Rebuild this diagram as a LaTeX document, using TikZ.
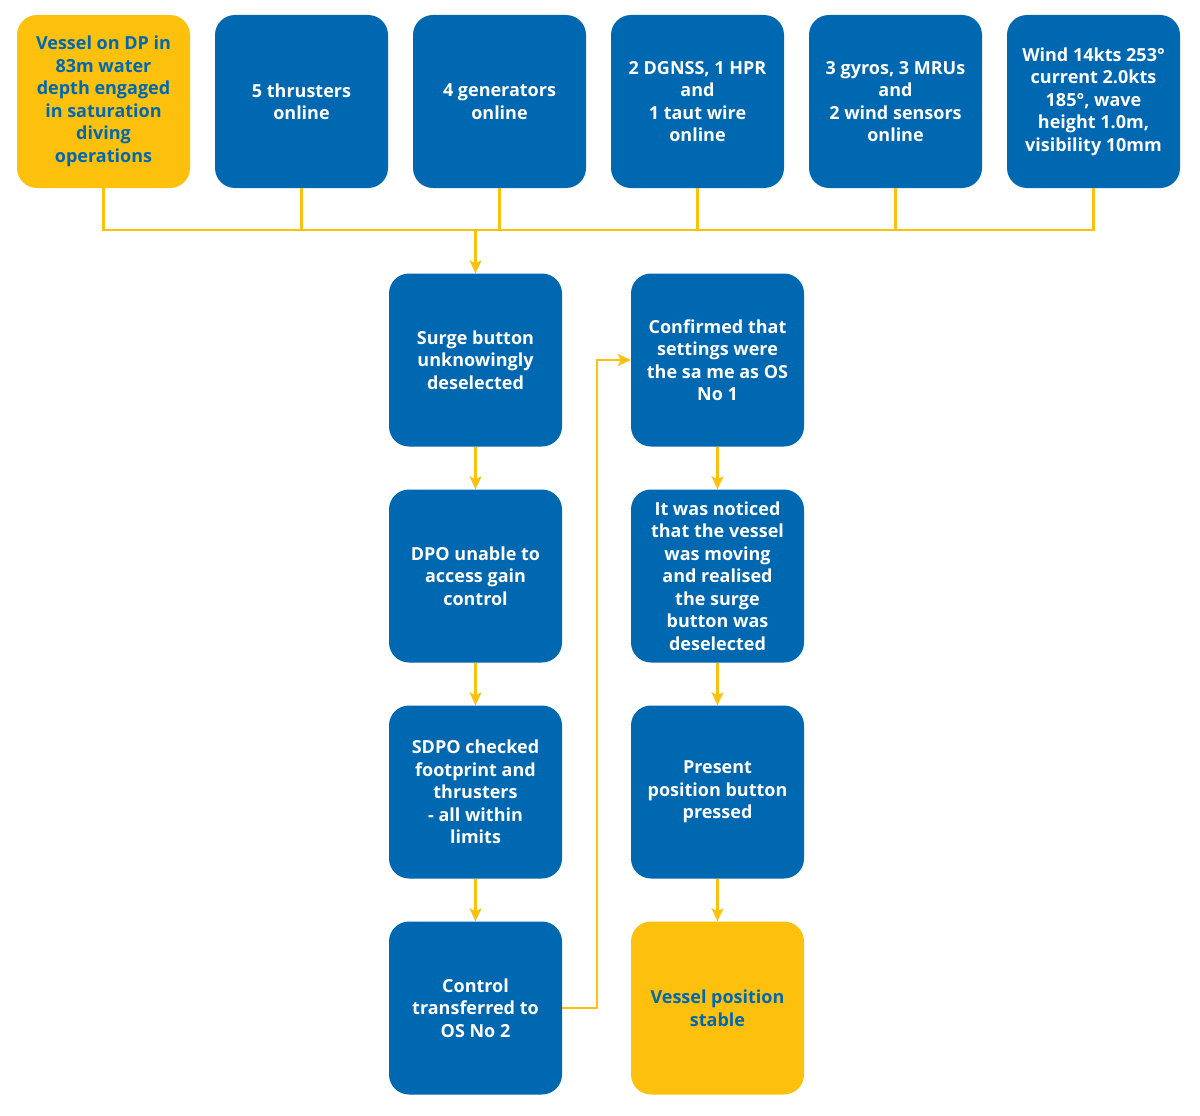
\documentclass[tikz,border=0pt]{standalone}
\usepackage{fontspec}
\setmainfont{Open Sans}
\usetikzlibrary{arrows.meta}
\definecolor{dblue}{HTML}{0067B1}
\definecolor{dyel}{HTML}{FDC00C}
\tikzset{
  box/.style={draw=none, fill=dblue, rounded corners=20pt, minimum width=173pt, minimum height=173pt,
    text=white, align=center, font=\fontsize{18}{22.5}\selectfont\bfseries, inner sep=0pt},
  ybox/.style={box, fill=dyel, text=dblue},
  conn/.style={draw=dyel, line width=2.1pt},
  arr/.style={conn, -{Stealth[length=13pt,width=12pt,inset=3pt]}}
}
\begin{document}
\begin{tikzpicture}[x=1pt,y=-1pt]
\useasboundingbox (0,0) rectangle (1200,1116);
\node[ybox] (n1) at (103.5,101.5) {Vessel on DP in\\83m water\\depth engaged\\in saturation\\diving\\operations};
\node[box] (n2) at (301.5,101.5) {5 thrusters\\online};
\node[box] (n3) at (499.5,101.5) {4 generators\\online};
\node[box] (n4) at (697.5,101.5) {2 DGNSS, 1 HPR\\and\\1 taut wire\\online};
\node[box] (n5) at (895.5,101.5) {3 gyros, 3 MRUs\\and\\2 wind sensors\\online};
\node[box] (n6) at (1093.5,101.5) {Wind 14kts 253°\\current 2.0kts\\185°, wave\\height 1.0m,\\visibility 10mm};
\node[box] (s1) at (475.5,360) {Surge button\\unknowingly\\deselected};
\node[box] (s2) at (475.5,576) {DPO unable to\\access gain\\control};
\node[box] (s3) at (475.5,792) {SDPO checked\\footprint and\\thrusters\\- all within\\limits};
\node[box] (s4) at (475.5,1008) {Control\\transferred to\\OS No 2};
\node[box] (r1) at (717.5,360) {Confirmed that\\settings were\\the sa me as OS\\No 1};
\node[box] (r2) at (717.5,576) {It was noticed\\that the vessel\\was moving\\and realised\\the surge\\button was\\deselected};
\node[box] (r3) at (717.5,792) {Present\\position button\\pressed};
\node[ybox] (r4) at (717.5,1008) {Vessel position\\stable};
\coordinate (bus) at (475.5,230);
\draw[conn] (n1.south) |- (n6.south |- bus) -- (n6.south);
\foreach \n in {n2,n3,n4,n5} \draw[conn] (\n.south) -- (\n.south |- bus);
\draw[arr] (bus) -- (s1.north);
\draw[arr] (s1) -- (s2);
\draw[arr] (s2) -- (s3);
\draw[arr] (s3) -- (s4);
\draw[arr] (r1) -- (r2);
\draw[arr] (r2) -- (r3);
\draw[arr] (r3) -- (r4);
\coordinate (jx) at (597,0);
\draw[arr] (s4.east) -- (jx |- s4.east) -- (jx |- r1.west) -- (r1.west);
\end{tikzpicture}
\end{document}
